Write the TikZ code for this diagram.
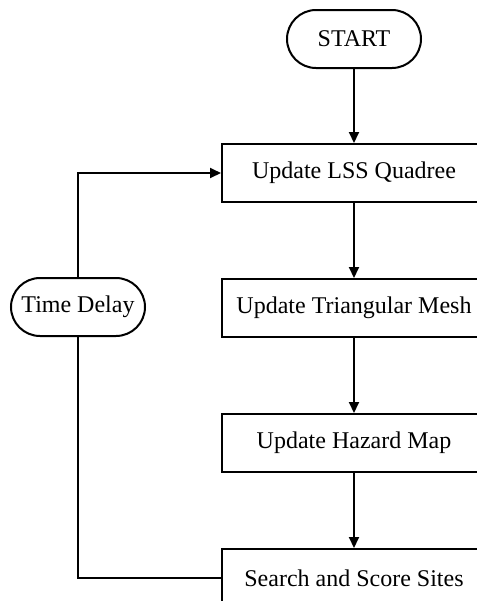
\documentclass[tikz,border=0pt]{standalone}
\usepackage{fontspec}
\setmainfont{Liberation Serif}
\usetikzlibrary{arrows.meta,positioning,shapes.misc}
\tikzset{
  >={Triangle[length=5.5pt,width=5pt]},
  proc/.style={draw, line width=1pt, minimum width=132pt, minimum height=29pt,
              align=center, inner sep=3pt, font=\fontsize{12}{14}\selectfont},
  term/.style={draw, line width=1pt, rounded rectangle, minimum width=73pt,
              minimum height=29pt, inner sep=3pt, font=\fontsize{12}{14}\selectfont},
  flow/.style={->, line width=1pt},
  loop/.style={line width=1pt},
}

\begin{document}
\begin{tikzpicture}[x=0.5pt,y=-0.5pt]
        \useasboundingbox (0,0) rectangle (477,601);
        \node[term] (start) at (354,39) {START};
        \node[proc] (lss) at (354,173) {Update LSS Quadree};
        \node[proc,below=37.5pt of lss] (mesh) {Update Triangular Mesh};
        \node[proc,below=37.5pt of mesh] (hazard) {Update Hazard Map};
        \node[proc,below=37.5pt of hazard] (sites) {Search and Score Sites};
        \node[term] (delay) at (78,307) {Time Delay};
        \draw[flow] (start) -- (lss);
        \foreach \a/\b in {lss/mesh,mesh/hazard,hazard/sites}{
          \draw[flow] (\a) -- (\b);
        }
        \draw[loop] (sites.west) -| (delay.south);
        \draw[flow] (delay.north) |- (lss.west);
      \end{tikzpicture}
\end{document}
